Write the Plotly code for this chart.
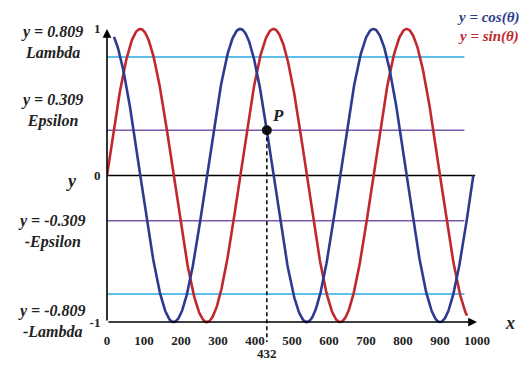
import numpy as np
import plotly.graph_objects as go

# ---- data ----
x_ticks = [0, 100, 200, 300, 400, 500, 600, 700, 800, 900, 1000]
y_ticks = [-1, 0, 1]
y_tick_text = ["-1", "0", "1"]
sin_range = [0, 973]          # theta span of the red y = sin(theta) curve (degrees)
cos_range = [19, 990]         # theta span of the blue y = cos(theta) curve (degrees)
levels = [0.809, 0.309, -0.309, -0.809]
level_names = ["y = 0.809<br>Lambda", "y = 0.309<br>Epsilon",
               "y = -0.309<br>-Epsilon", "y = -0.809<br>-Lambda"]
level_label_y = [0.91, 0.445, -0.38, -0.995]
level_colors = ["#29abe2", "#7a5aa8", "#7a5aa8", "#29abe2"]
level_ends = [966, 966, 966, 966]
P_x, P_y = 432, 0.309

BLUE = "#2e3a8f"
RED = "#c1272d"
FONT = "Liberation Serif"
TXT = "#222222"

th_s = np.linspace(sin_range[0], sin_range[1], 600)
th_c = np.linspace(cos_range[0], cos_range[1], 600)

fig = go.Figure()

# horizontal reference lines
for lv, col, xe in zip(levels, level_colors, level_ends):
    fig.add_trace(go.Scatter(x=[0, xe], y=[lv, lv], mode="lines",
                             line=dict(color=col, width=1.6), hoverinfo="skip"))
# zero line
fig.add_trace(go.Scatter(x=[0, 995], y=[0, 0], mode="lines",
                         line=dict(color="black", width=1.6), hoverinfo="skip"))

fig.add_trace(go.Scatter(x=th_s, y=np.sin(np.radians(th_s)), mode="lines",
                         line=dict(color=RED, width=2.6), name="sin"))
fig.add_trace(go.Scatter(x=th_c, y=np.cos(np.radians(th_c)), mode="lines",
                         line=dict(color=BLUE, width=2.6), name="cos"))

# dashed drop line from P
fig.add_shape(type="line", xref="x", yref="paper", x0=P_x, x1=P_x,
              y0=(P_y + 1.02) / 2.04, y1=(325 - 342) / 299,
              line=dict(color="black", width=1.5, dash="4px,3px"))

fig.add_trace(go.Scatter(x=[P_x], y=[P_y], mode="markers",
                         marker=dict(color="#111111", size=10), cliponaxis=False))

# axes with arrows
fig.add_annotation(x=0, y=1.0, ax=0, ay=-1, xref="x", yref="y", axref="x", ayref="y",
                   showarrow=True, arrowhead=2, arrowsize=1.1, arrowwidth=1.6,
                   arrowcolor="black", text="")
fig.add_annotation(x=1000, y=-1, ax=0, ay=-1, xref="x", yref="y", axref="x", ayref="y",
                   showarrow=True, arrowhead=2, arrowsize=1.1, arrowwidth=1.6,
                   arrowcolor="black", text="")

def px_x(p):
    return (p - 107) / 370

def px_y(p):
    return (325 - p) / 299

lab_font = dict(family=FONT, size=16, color=TXT)
for name, ly in zip(level_names, level_label_y):
    fig.add_annotation(x=px_x(52), y=ly, xref="paper", yref="y",
                       text=f"<b><i>{name}</i></b>",
                       showarrow=False, font=lab_font, align="center",
                       xanchor="center", yanchor="middle")

fig.add_annotation(x=px_x(71), y=-0.04, xref="paper", yref="y",
                   text="<b><i>y</i></b>", showarrow=False,
                   xanchor="center", yanchor="middle",
                   font=dict(family=FONT, size=18, color=TXT))
fig.add_annotation(x=px_x(510), y=px_y(323), xref="paper", yref="paper",
                   text="<b><i>x</i></b>", showarrow=False,
                   xanchor="center", yanchor="middle",
                   font=dict(family=FONT, size=18, color=TXT))
fig.add_annotation(x=P_x, y=px_y(353), xref="x", yref="paper",
                   text="<b>432</b>", showarrow=False,
                   xanchor="center", yanchor="middle",
                   font=dict(family=FONT, size=13, color=TXT))
fig.add_annotation(x=463, y=0.41, xref="x", yref="y", text="<b><i>P</i></b>",
                   showarrow=False, xanchor="center", yanchor="middle",
                   font=dict(family=FONT, size=17, color=TXT))
fig.add_annotation(x=px_x(521), y=px_y(17), xref="paper", yref="paper",
                   text="<b><i>y = cos(θ)</i></b>", showarrow=False,
                   xanchor="right", yanchor="middle",
                   font=dict(family=FONT, size=15, color=BLUE))
fig.add_annotation(x=px_x(521), y=px_y(37), xref="paper", yref="paper",
                   text="<b><i>y = sin(θ)</i></b>", showarrow=False,
                   xanchor="right", yanchor="middle",
                   font=dict(family=FONT, size=15, color=RED))

fig.update_layout(
    width=530, height=381,
    margin=dict(l=107, r=53, t=26, b=56),
    paper_bgcolor="white", plot_bgcolor="white",
    showlegend=False,
    xaxis=dict(range=[0, 1000], tickvals=x_ticks,
               ticktext=[f"<b>{v}</b>" for v in x_ticks],
               showgrid=False, zeroline=False, showline=False,
               ticks="outside", ticklen=3, tickcolor="rgba(0,0,0,0)",
               tickfont=dict(family=FONT, size=13, color=TXT), fixedrange=True),
    yaxis=dict(range=[-1.02, 1.02], tickvals=y_ticks,
               ticktext=[f"<b>{t}</b>" for t in y_tick_text],
               showgrid=False, zeroline=False, showline=False,
               ticks="outside", ticklen=3, tickcolor="rgba(0,0,0,0)",
               tickfont=dict(family=FONT, size=13, color=TXT), fixedrange=True),
)

fig.write_html("out.html")
